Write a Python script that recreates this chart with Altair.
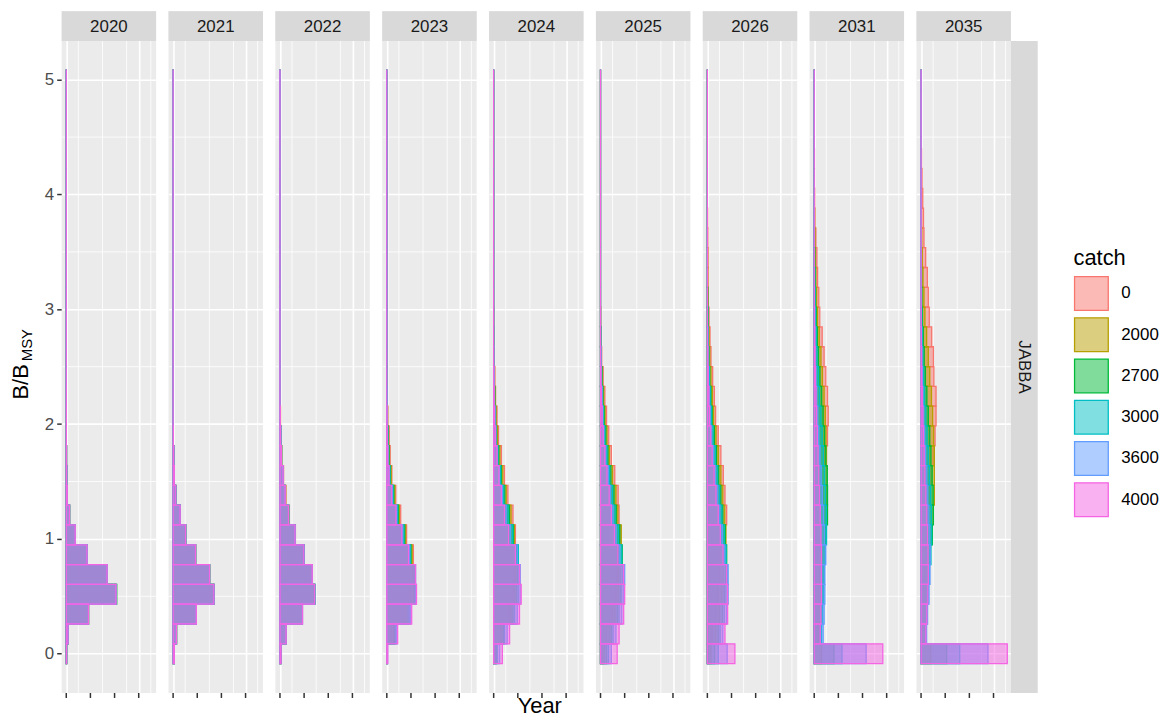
import altair as alt
import pandas as pd

model = "JABBA"
years = [2020, 2021, 2022, 2023, 2024, 2025, 2026, 2031, 2035]
catches = ["0", "2000", "2700", "3000", "3600", "4000"]
line_colors = ["#F8766D", "#B79F00", "#00BA38", "#00BFC4", "#619CFF", "#F564E3"]
fill_colors = ["rgba(248,118,109,0.5)", "rgba(183,159,0,0.5)", "rgba(0,186,56,0.5)",
               "rgba(0,191,196,0.5)", "rgba(97,156,255,0.5)", "rgba(245,100,227,0.5)"]

# 30 histogram bins of B/BMSY, same breaks in every panel
bin_first = -0.086
bin_width = 0.1725
n_bins = 30

y_major = [0, 1, 2, 3, 4, 5]
y_minor = [0.5, 1.5, 2.5, 3.5, 4.5]
x_major = [0, 1000, 2000, 3000]
x_minor = [500, 1500, 2500, 3500]

# counts per bin (bin 0 upward), per catch scenario
n2020 = {
    "0":    [15, 70, 920, 2060, 1690, 860, 370, 136, 40, 20, 10, 5, 3, 2],
    "2000": [15, 70, 920, 2060, 1690, 860, 370, 136, 40, 20, 10, 5, 3, 2],
    "2700": [15, 70, 920, 2090, 1690, 860, 370, 136, 40, 20, 10, 5, 3, 2],
    "3000": [15, 70, 920, 2060, 1690, 860, 370, 136, 40, 20, 10, 5, 3, 2],
    "3600": [15, 70, 920, 2060, 1690, 860, 370, 136, 40, 20, 10, 5, 3, 2],
    "4000": [15, 70, 920, 2060, 1690, 860, 370, 136, 40, 20, 10, 5, 3, 2],
}
n2021 = {
    "0":    [50, 140, 960, 1690, 1510, 930, 520, 290, 110, 50, 30, 10],
    "2000": [50, 140, 960, 1690, 1510, 930, 520, 290, 110, 50, 30, 10],
    "2700": [50, 140, 960, 1690, 1510, 930, 520, 290, 110, 50, 30, 10],
    "3000": [50, 140, 960, 1690, 1510, 930, 520, 290, 110, 50, 30, 10],
    "3600": [50, 140, 960, 1690, 1510, 930, 520, 290, 110, 50, 30, 10],
    "4000": [50, 140, 960, 1690, 1510, 930, 520, 290, 110, 50, 30, 10],
}
n2022 = {
    "0":    [40, 240, 910, 1420, 1330, 1000, 640, 370, 250, 150, 70, 40, 20],
    "2000": [40, 245, 920, 1430, 1335, 1000, 635, 365, 230, 140, 70, 40, 20],
    "2700": [40, 250, 925, 1450, 1340, 1000, 630, 360, 225, 135, 65, 35, 15],
    "3000": [40, 250, 930, 1440, 1340, 995, 630, 360, 220, 135, 65, 35, 15],
    "3600": [40, 250, 930, 1440, 1340, 995, 625, 355, 220, 130, 60, 35, 15],
    "4000": [45, 255, 935, 1440, 1335, 990, 625, 355, 215, 130, 60, 30, 15],
}
n2023 = {
    "0":    [10, 200, 700, 1000, 1100, 1100, 820, 575, 370, 210, 140, 100, 40, 20, 10],
    "2000": [15, 280, 800, 1100, 1150, 1050, 780, 520, 330, 180, 110, 70, 30, 15, 5],
    "2700": [20, 330, 880, 1150, 1170, 1000, 740, 480, 290, 150, 90, 50, 25, 10],
    "3000": [25, 370, 930, 1180, 1180, 980, 710, 450, 260, 130, 70, 40, 20, 10],
    "3600": [30, 410, 980, 1210, 1190, 940, 660, 410, 230, 110, 55, 30, 15, 5],
    "4000": [40, 450, 1030, 1230, 1190, 900, 620, 380, 200, 90, 40, 20, 10],
}
n2024 = {
    "0":    [40, 300, 640, 800, 850, 900, 900, 800, 590, 450, 320, 200, 140, 80, 50, 30, 20, 10],
    "2000": [70, 340, 720, 880, 920, 960, 860, 720, 520, 380, 260, 160, 100, 60, 35, 20, 10, 5],
    "2700": [110, 400, 800, 950, 980, 1000, 820, 650, 460, 320, 210, 120, 80, 45, 25, 15, 5],
    "3000": [150, 450, 870, 1020, 1050, 1020, 790, 600, 420, 290, 180, 100, 60, 35, 20, 10, 5],
    "3600": [250, 560, 980, 1100, 1100, 980, 700, 520, 360, 240, 150, 80, 50, 25, 15, 5],
    "4000": [360, 660, 1070, 1140, 1080, 900, 620, 450, 320, 220, 140, 80, 40, 20, 10, 5],
}
n2025 = {
    "0":    [80, 250, 500, 650, 700, 700, 800, 770, 730, 590, 450, 340, 250, 180, 110, 50, 30, 10],
    "2000": [150, 380, 600, 730, 760, 760, 860, 720, 640, 500, 370, 270, 190, 130, 80, 35, 20, 5],
    "2700": [250, 450, 700, 820, 840, 900, 800, 650, 560, 430, 310, 220, 150, 100, 60, 25, 10],
    "3000": [330, 520, 770, 880, 920, 880, 740, 600, 500, 380, 270, 180, 120, 80, 45, 20, 10],
    "3600": [450, 640, 880, 960, 1000, 800, 650, 520, 420, 320, 220, 140, 90, 60, 30, 15, 5],
    "4000": [690, 770, 960, 1000, 960, 720, 580, 450, 360, 270, 180, 110, 70, 40, 20, 10],
}
n2026 = {
    "0":    [40, 200, 350, 450, 520, 560, 640, 800, 730, 660, 560, 450, 340, 290, 220, 150, 110, 70, 40, 30, 30, 20, 10],
    "2000": [150, 350, 500, 600, 650, 700, 770, 720, 640, 560, 460, 360, 260, 210, 150, 100, 70, 40, 20, 10, 5],
    "2700": [300, 450, 620, 700, 760, 800, 740, 640, 560, 470, 380, 290, 200, 150, 100, 60, 40, 20, 10],
    "3000": [450, 530, 700, 770, 820, 780, 700, 600, 510, 420, 330, 240, 170, 120, 80, 50, 30, 15, 5],
    "3600": [820, 640, 800, 860, 860, 720, 620, 520, 430, 340, 260, 180, 120, 80, 50, 30, 15, 5],
    "4000": [1140, 730, 840, 840, 800, 650, 540, 450, 360, 280, 200, 140, 90, 60, 35, 20, 10],
}
n2031 = {
    "0":    [5, 120, 170, 200, 230, 260, 300, 340, 380, 420, 450, 550, 580, 550, 480, 410, 330, 230, 190, 140, 110, 70, 30, 20, 10, 10, 5],
    "2000": [300, 180, 230, 270, 310, 350, 400, 450, 500, 530, 510, 490, 460, 410, 340, 280, 210, 140, 100, 70, 50, 30, 15, 5],
    "2700": [820, 240, 290, 330, 370, 410, 460, 550, 550, 540, 480, 430, 370, 310, 240, 180, 130, 85, 55, 35, 20, 10, 5],
    "3000": [1150, 300, 350, 390, 420, 460, 510, 500, 470, 430, 380, 330, 280, 220, 170, 120, 85, 55, 35, 20, 10, 5],
    "3600": [2150, 370, 410, 440, 440, 480, 430, 390, 340, 290, 240, 190, 150, 110, 80, 55, 35, 20, 10, 5],
    "4000": [2840, 250, 280, 300, 300, 300, 280, 250, 220, 190, 160, 130, 100, 75, 50, 35, 20, 10, 5],
}
n2035 = {
    "0":    [5, 60, 90, 120, 150, 190, 240, 300, 380, 450, 500, 580, 620, 620, 530, 510, 440, 340, 300, 260, 190, 120, 100, 70, 40, 20, 10, 5],
    "2000": [400, 120, 160, 200, 250, 300, 370, 450, 550, 550, 550, 520, 480, 430, 360, 300, 230, 160, 120, 80, 50, 30, 15, 5],
    "2700": [1060, 160, 210, 260, 310, 370, 470, 510, 500, 460, 410, 360, 300, 240, 180, 130, 90, 55, 35, 20, 10, 5],
    "3000": [1600, 190, 240, 290, 340, 410, 440, 430, 400, 350, 300, 250, 200, 150, 110, 75, 50, 30, 15, 10, 5],
    "3600": [2770, 230, 270, 330, 370, 380, 360, 320, 280, 240, 190, 150, 110, 80, 55, 35, 20, 10, 5],
    "4000": [3570, 200, 240, 280, 300, 290, 270, 240, 200, 160, 130, 100, 75, 50, 30, 20, 10, 5],
}
counts = {2020: n2020, 2021: n2021, 2022: n2022, 2023: n2023, 2024: n2024,
          2025: n2025, 2026: n2026, 2031: n2031, 2035: n2035}

rows = []
for yr in years:
    for c in catches:
        vals = counts[yr][c]
        for k in range(n_bins):
            lo = bin_first + k * bin_width
            rows.append({"year": yr, "catch": c, "bin": k, "lo": round(lo, 4),
                         "hi": round(lo + bin_width, 4),
                         "n": vals[k] if k < len(vals) else 0})
df = pd.DataFrame(rows)

FONT = "Liberation Sans"
W, H = 95, 686
STRIP = 30
xs = alt.Scale(domain=[-190, 3720], nice=False, zero=False)
ys = alt.Scale(domain=[-0.342, 5.597], nice=False, zero=False)
one = "datum.catch == '0' && datum.bin == 0"


def as_list(vals):
    return "[" + ",".join(str(v) for v in vals) + "]"


base = alt.Chart(df)

minor_h = base.transform_filter(one).transform_calculate(g=as_list(y_minor)).transform_flatten(
    ["g"]).mark_rule(color="white", strokeWidth=0.8).encode(y=alt.Y("g:Q", scale=ys, title=None))
minor_v = base.transform_filter(one).transform_calculate(g=as_list(x_minor)).transform_flatten(
    ["g"]).mark_rule(color="white", strokeWidth=0.8).encode(x=alt.X("g:Q", scale=xs, title=None))
x_ticks = base.transform_filter(one).transform_calculate(g=as_list(x_major)).transform_flatten(
    ["g"]).mark_rule(color="#333333", strokeWidth=1.5).encode(
    x=alt.X("g:Q", scale=xs, title=None), y=alt.value(H), y2=alt.value(H + 5))

legend = alt.Legend(
    title="catch", orient="none", legendX=1018, legendY=238, padding=0,
    symbolType="square", symbolSize=1150, symbolStrokeWidth=1.3,
    titleFontSize=22, titleFontWeight="normal", titleColor="black", titleFont=FONT,
    labelFontSize=17, labelColor="black", labelFont=FONT,
    rowPadding=1.5, labelOffset=12, titlePadding=6,
)

bars = base.mark_bar(strokeWidth=1.3, opacity=1).encode(
    x=alt.X("n:Q", scale=xs, title=None,
            axis=alt.Axis(values=x_major, labels=False, ticks=False, domain=False, grid=True,
                          gridColor="white", gridWidth=1.6)),
    x2=alt.datum(0),
    y=alt.Y("lo:Q", scale=ys, title=None,
            axis=alt.Axis(values=y_major, format="d", labels=True, labelFontSize=17,
                          labelColor="#4D4D4D", labelFont=FONT, ticks=True, tickSize=5,
                          tickWidth=1.5, tickColor="#333333", labelPadding=3, domain=False,
                          grid=True, gridColor="white", gridWidth=1.6)),
    y2="hi:Q",
    fill=alt.Fill("catch:N", scale=alt.Scale(domain=catches, range=fill_colors), legend=legend),
    stroke=alt.Stroke("catch:N", scale=alt.Scale(domain=catches, range=line_colors), legend=legend),
)

strip_rect = base.transform_filter(one).mark_rect(fill="#D9D9D9").encode(
    x=alt.value(0), x2=alt.value(W), y=alt.value(0), y2=alt.value(STRIP)
)
strip_text = base.transform_filter(one).mark_text(
    fontSize=17, color="#1A1A1A", font=FONT, baseline="middle", align="center"
).encode(x=alt.value(W / 2), y=alt.value(STRIP / 2 + 1), text="year:N")

last = one + " && datum.year == " + str(years[-1])
row_rect = base.transform_filter(last).mark_rect(fill="#D9D9D9").encode(
    x=alt.value(W), x2=alt.value(W + 27), y=alt.value(STRIP), y2=alt.value(H)
)
row_text = base.transform_filter(last).mark_text(
    fontSize=17, color="#1A1A1A", font=FONT, baseline="middle", align="center", angle=90
).encode(x=alt.value(W + 13.5), y=alt.value((STRIP + H) / 2), text=alt.value(model))

first = one + " && datum.year == " + str(years[0])
ytitle_main = base.transform_filter(first).mark_text(
    fontSize=22, color="black", font=FONT, baseline="middle", align="center", angle=270
).encode(x=alt.value(-41), y=alt.value(373), text=alt.value("B/B"))
ytitle_sub = base.transform_filter(first).mark_text(
    fontSize=15, color="black", font=FONT, baseline="middle", align="center", angle=270
).encode(x=alt.value(-35), y=alt.value(336), text=alt.value("MSY"))

panel = alt.layer(minor_h, minor_v, x_ticks, bars, strip_rect, strip_text, row_rect, row_text,
                  ytitle_main, ytitle_sub).properties(width=W, height=H)

chart = panel.facet(
    column=alt.Column("year:O", sort=years, header=None),
    spacing=12.5,
).properties(
    bounds="flush",
    title=alt.TitleParams("Year", orient="bottom", anchor="middle", fontSize=22,
                          fontWeight="normal", color="black", font=FONT, offset=-3, dx=-45),
    padding={"left": 2, "top": 0, "right": 0, "bottom": 0},
).configure(font=FONT).configure_view(stroke=None, fill="#EBEBEB")

chart.save("out.html", embed_options={"renderer": "svg", "actions": False})
